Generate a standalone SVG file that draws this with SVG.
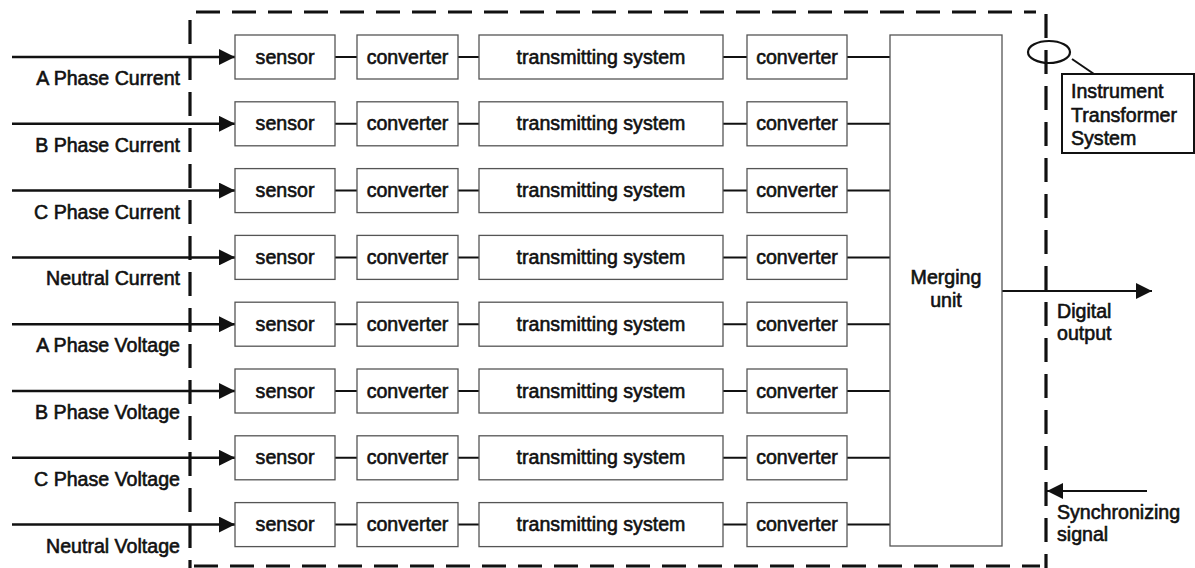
<svg xmlns="http://www.w3.org/2000/svg" width="1195" height="568" viewBox="0 0 1195 568">
<style>
.box{fill:#fff;stroke:#555;stroke-width:1.3}
.t{font-family:"Liberation Sans",Arial,sans-serif;font-size:19.6px;fill:#111;stroke:#111;stroke-width:0.6}
.c{text-anchor:middle}
.r{text-anchor:end}
.ln{stroke:#111;stroke-width:2;fill:none}
.in{stroke:#111;stroke-width:2.5;fill:none}
.dash{stroke:#111;stroke-width:3.2;fill:none;stroke-dasharray:24 12}
</style>
<defs>
<marker id="ah" viewBox="0 0 10 10" refX="10" refY="5" markerWidth="18" markerHeight="16" markerUnits="userSpaceOnUse" orient="auto">
<path d="M0,0 L10,5 L0,10 Z" fill="#111"/>
</marker>
</defs>
<rect width="1195" height="568" fill="#fff"/>

<g id="boundary">
<path class="dash" d="M196,12 H1036"/>
<path class="dash" d="M190,20 V568"/>
<path class="dash" d="M194,566 H1040"/>
<path class="dash" d="M1046,14 V568"/>
</g>

<g id="connectors">
<g id="inputs">
<path class="in" d="M12,57 H235" marker-end="url(#ah)"/>
<path class="in" d="M12,123.8 H235" marker-end="url(#ah)"/>
<path class="in" d="M12,190.6 H235" marker-end="url(#ah)"/>
<path class="in" d="M12,257.4 H235" marker-end="url(#ah)"/>
<path class="in" d="M12,324.2 H235" marker-end="url(#ah)"/>
<path class="in" d="M12,391 H235" marker-end="url(#ah)"/>
<path class="in" d="M12,457.8 H235" marker-end="url(#ah)"/>
<path class="in" d="M12,524.6 H235" marker-end="url(#ah)"/>
</g>
<g id="links">
<path class="ln" d="M335,57 H357 M458,57 H479 M723,57 H747 M847,57 H890"/>
<path class="ln" d="M335,123.8 H357 M458,123.8 H479 M723,123.8 H747 M847,123.8 H890"/>
<path class="ln" d="M335,190.6 H357 M458,190.6 H479 M723,190.6 H747 M847,190.6 H890"/>
<path class="ln" d="M335,257.4 H357 M458,257.4 H479 M723,257.4 H747 M847,257.4 H890"/>
<path class="ln" d="M335,324.2 H357 M458,324.2 H479 M723,324.2 H747 M847,324.2 H890"/>
<path class="ln" d="M335,391 H357 M458,391 H479 M723,391 H747 M847,391 H890"/>
<path class="ln" d="M335,457.8 H357 M458,457.8 H479 M723,457.8 H747 M847,457.8 H890"/>
<path class="ln" d="M335,524.6 H357 M458,524.6 H479 M723,524.6 H747 M847,524.6 H890"/>
</g>
<path id="digital-output" class="ln" d="M1002,291 H1152" marker-end="url(#ah)"/>
<path id="sync-signal" class="ln" d="M1147,491 H1047" marker-end="url(#ah)"/>
<path id="callout-leader" class="ln" d="M1072,59 L1094,74"/>
</g>

<g id="labels">
<text class="t r" x="180" y="85">A Phase Current</text>
<text class="t r" x="180" y="151.8">B Phase Current</text>
<text class="t r" x="180" y="218.6">C Phase Current</text>
<text class="t r" x="180" y="285.4">Neutral Current</text>
<text class="t r" x="180" y="352.2">A Phase Voltage</text>
<text class="t r" x="180" y="419">B Phase Voltage</text>
<text class="t r" x="180" y="485.8">C Phase Voltage</text>
<text class="t r" x="180" y="552.6">Neutral Voltage</text>
<text class="t" x="1057" y="318">Digital</text>
<text class="t" x="1057" y="340">output</text>
<text class="t" x="1057" y="519">Synchronizing</text>
<text class="t" x="1057" y="541">signal</text>
</g>

<g id="row1">
<g id="sensor-1"><rect class="box" x="235" y="35" width="100" height="44"/><text class="t c" x="285" y="63.5">sensor</text></g>
<g id="converter-1a"><rect class="box" x="357" y="35" width="101" height="44"/><text class="t c" x="407.5" y="63.5">converter</text></g>
<g id="transmitting-1"><rect class="box" x="479" y="35" width="244" height="44"/><text class="t c" x="601" y="63.5">transmitting system</text></g>
<g id="converter-1b"><rect class="box" x="747" y="35" width="100" height="44"/><text class="t c" x="797" y="63.5">converter</text></g>
</g>
<g id="row2" transform="translate(0,66.8)">
<g id="sensor-2"><rect class="box" x="235" y="35" width="100" height="44"/><text class="t c" x="285" y="63.5">sensor</text></g>
<g id="converter-2a"><rect class="box" x="357" y="35" width="101" height="44"/><text class="t c" x="407.5" y="63.5">converter</text></g>
<g id="transmitting-2"><rect class="box" x="479" y="35" width="244" height="44"/><text class="t c" x="601" y="63.5">transmitting system</text></g>
<g id="converter-2b"><rect class="box" x="747" y="35" width="100" height="44"/><text class="t c" x="797" y="63.5">converter</text></g>
</g>
<g id="row3" transform="translate(0,133.6)">
<g id="sensor-3"><rect class="box" x="235" y="35" width="100" height="44"/><text class="t c" x="285" y="63.5">sensor</text></g>
<g id="converter-3a"><rect class="box" x="357" y="35" width="101" height="44"/><text class="t c" x="407.5" y="63.5">converter</text></g>
<g id="transmitting-3"><rect class="box" x="479" y="35" width="244" height="44"/><text class="t c" x="601" y="63.5">transmitting system</text></g>
<g id="converter-3b"><rect class="box" x="747" y="35" width="100" height="44"/><text class="t c" x="797" y="63.5">converter</text></g>
</g>
<g id="row4" transform="translate(0,200.4)">
<g id="sensor-4"><rect class="box" x="235" y="35" width="100" height="44"/><text class="t c" x="285" y="63.5">sensor</text></g>
<g id="converter-4a"><rect class="box" x="357" y="35" width="101" height="44"/><text class="t c" x="407.5" y="63.5">converter</text></g>
<g id="transmitting-4"><rect class="box" x="479" y="35" width="244" height="44"/><text class="t c" x="601" y="63.5">transmitting system</text></g>
<g id="converter-4b"><rect class="box" x="747" y="35" width="100" height="44"/><text class="t c" x="797" y="63.5">converter</text></g>
</g>
<g id="row5" transform="translate(0,267.2)">
<g id="sensor-5"><rect class="box" x="235" y="35" width="100" height="44"/><text class="t c" x="285" y="63.5">sensor</text></g>
<g id="converter-5a"><rect class="box" x="357" y="35" width="101" height="44"/><text class="t c" x="407.5" y="63.5">converter</text></g>
<g id="transmitting-5"><rect class="box" x="479" y="35" width="244" height="44"/><text class="t c" x="601" y="63.5">transmitting system</text></g>
<g id="converter-5b"><rect class="box" x="747" y="35" width="100" height="44"/><text class="t c" x="797" y="63.5">converter</text></g>
</g>
<g id="row6" transform="translate(0,334)">
<g id="sensor-6"><rect class="box" x="235" y="35" width="100" height="44"/><text class="t c" x="285" y="63.5">sensor</text></g>
<g id="converter-6a"><rect class="box" x="357" y="35" width="101" height="44"/><text class="t c" x="407.5" y="63.5">converter</text></g>
<g id="transmitting-6"><rect class="box" x="479" y="35" width="244" height="44"/><text class="t c" x="601" y="63.5">transmitting system</text></g>
<g id="converter-6b"><rect class="box" x="747" y="35" width="100" height="44"/><text class="t c" x="797" y="63.5">converter</text></g>
</g>
<g id="row7" transform="translate(0,400.8)">
<g id="sensor-7"><rect class="box" x="235" y="35" width="100" height="44"/><text class="t c" x="285" y="63.5">sensor</text></g>
<g id="converter-7a"><rect class="box" x="357" y="35" width="101" height="44"/><text class="t c" x="407.5" y="63.5">converter</text></g>
<g id="transmitting-7"><rect class="box" x="479" y="35" width="244" height="44"/><text class="t c" x="601" y="63.5">transmitting system</text></g>
<g id="converter-7b"><rect class="box" x="747" y="35" width="100" height="44"/><text class="t c" x="797" y="63.5">converter</text></g>
</g>
<g id="row8" transform="translate(0,467.6)">
<g id="sensor-8"><rect class="box" x="235" y="35" width="100" height="44"/><text class="t c" x="285" y="63.5">sensor</text></g>
<g id="converter-8a"><rect class="box" x="357" y="35" width="101" height="44"/><text class="t c" x="407.5" y="63.5">converter</text></g>
<g id="transmitting-8"><rect class="box" x="479" y="35" width="244" height="44"/><text class="t c" x="601" y="63.5">transmitting system</text></g>
<g id="converter-8b"><rect class="box" x="747" y="35" width="100" height="44"/><text class="t c" x="797" y="63.5">converter</text></g>
</g>

<g id="merging-unit">
<rect class="box" x="890" y="35" width="112" height="511"/>
<text class="t c" x="946" y="284">Merging</text>
<text class="t c" x="946" y="307">unit</text>
</g>

<g id="instrument-transformer-system">
<ellipse cx="1049" cy="52" rx="21" ry="11" fill="none" stroke="#111" stroke-width="2.2"/>
<rect x="1062" y="74" width="132" height="79" fill="#fff" stroke="#111" stroke-width="2"/>
<text class="t" x="1071" y="98">Instrument</text>
<text class="t" x="1071" y="122">Transformer</text>
<text class="t" x="1071" y="145">System</text>
</g>
</svg>
